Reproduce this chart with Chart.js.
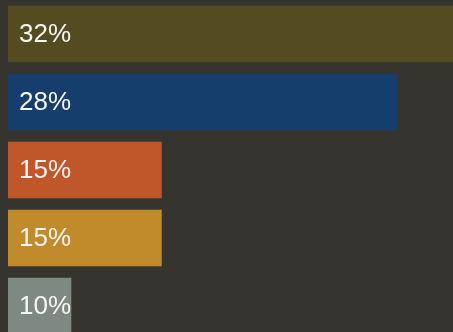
<!DOCTYPE html>
<html>
<head>
<meta charset="utf-8">
<script src="https://cdn.jsdelivr.net/npm/chart.js@4"></script>
<style>
  html, body { margin: 0; padding: 0; background: #36342f; overflow: hidden; }
  #wrap { width: 453px; height: 340px; }
</style>
</head>
<body>
<div id="wrap"><canvas id="Chart1"></canvas></div>
<script>
const categorias = ["A", "B", "C", "D", "E"]
const valores = [32, 28, 15, 15, 10]
const rotulos = ["32%", "28%", "15%", "15%", "10%"]
const cores = ["#544c20", "#163e6c", "#c0572a", "#c18b2c", "#7f8984"]

// escreve o rótulo dentro de cada barra, encostado à esquerda
const rotuloPlugin = {
    id: "rotulos",
    afterDatasetsDraw(chart) {
        const ctx = chart.ctx
        const meta = chart.getDatasetMeta(0)
        ctx.save()
        ctx.font = "26px 'Liberation Sans', Arial, sans-serif"
        ctx.fillStyle = "#f7f6f2"
        ctx.textBaseline = "middle"
        ctx.textAlign = "left"
        meta.data.forEach((bar, i) => {
            ctx.fillText(rotulos[i], chart.chartArea.left + 11, bar.y + 1)
        })
        ctx.restore()
    }
}

const ex1 = document.getElementById("Chart1")

new Chart(ex1, {
    type: "bar",
    data: {
        labels: categorias,
        datasets: [
            {
                data: valores,
                backgroundColor: cores,
                borderWidth: 0,
                barPercentage: 0.83,
                categoryPercentage: 1
            }
        ]
    },
    options: {
        indexAxis: "y",
        responsive: true,
        maintainAspectRatio: false,
        animation: false,
        layout: { padding: { left: 8, right: 0, top: 0, bottom: 0 } },
        plugins: {
            legend: { display: false },
            tooltip: { enabled: false }
        },
        scales: {
            x: { display: false, min: 6.5, max: 31.1 },
            y: { display: false }
        }
    },
    plugins: [rotuloPlugin]
})
</script>
</body>
</html>
